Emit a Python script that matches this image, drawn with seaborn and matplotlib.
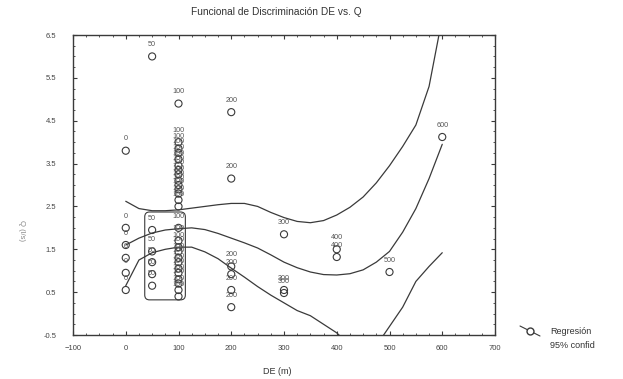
import numpy as np
import pandas as pd
import matplotlib
matplotlib.use("Agg")
import matplotlib.pyplot as plt
from matplotlib.patches import FancyBboxPatch
from matplotlib.lines import Line2D
from matplotlib.ticker import MultipleLocator
import seaborn as sns

# observed points: DE (m) -> Q
q_de0 = [3.8, 2.0, 1.6, 1.3, 0.95, 0.55]
q_de50 = [6.0, 1.95, 1.45, 1.2, 0.92, 0.65]
q_de100 = [4.9, 4.0, 3.85, 3.75, 3.6, 3.45, 3.35, 3.25, 3.1, 3.0, 2.9, 2.8,
           2.65, 2.5, 2.0, 1.7, 1.55, 1.45, 1.3, 1.2, 1.05, 0.95, 0.8, 0.7,
           0.55, 0.4]
q_de200 = [4.7, 3.15, 1.1, 0.92, 0.55, 0.15]
q_de300 = [1.85, 0.55, 0.48]
q_de400 = [1.5, 1.32]
q_de500 = [0.97]
q_de600 = [4.12]

# regression and 95% band
curve_x = [0, 25, 50, 75, 100, 125, 150, 175, 200, 225, 250, 275, 300, 325,
           350, 375, 400, 425, 450, 475, 500, 525, 550, 575, 600]
reg_mid = [1.60, 1.76, 1.88, 1.95, 1.98, 2.00, 1.96, 1.87, 1.76, 1.65, 1.53,
           1.37, 1.20, 1.07, 0.97, 0.91, 0.90, 0.93, 1.02, 1.20, 1.45, 1.90,
           2.45, 3.15, 3.95]
reg_upper = [2.62, 2.45, 2.40, 2.40, 2.42, 2.46, 2.50, 2.54, 2.57, 2.57, 2.50,
             2.36, 2.24, 2.15, 2.12, 2.17, 2.30, 2.48, 2.72, 3.05, 3.45, 3.90,
             4.40, 5.30, 6.90]
reg_lower = [0.65, 1.25, 1.42, 1.50, 1.55, 1.55, 1.44, 1.28, 1.06, 0.85, 0.63,
             0.43, 0.25, 0.07, -0.05, -0.25, -0.45, -0.75, -0.90, -0.75, -0.30,
             0.15, 0.75, 1.10, 1.42]

groups = {0: q_de0, 50: q_de50, 100: q_de100, 200: q_de200,
          300: q_de300, 400: q_de400, 500: q_de500, 600: q_de600}
pts = pd.DataFrame([(de, q) for de, qs in groups.items() for q in qs],
                   columns=["DE", "Q"])
curves = pd.DataFrame({"x": curve_x, "mid": reg_mid,
                       "upper": reg_upper, "lower": reg_lower})

sns.set_style("ticks")
plt.rcParams["font.family"] = ["Liberation Sans", "DejaVu Sans"]
ink = "#3a3a3a"

fig = plt.figure(figsize=(6.23, 3.79), dpi=100)
ax = fig.add_axes([73 / 623, 1 - 335 / 379, 422 / 623, 300 / 379])

for col in ["mid", "upper", "lower"]:
    sns.lineplot(data=curves, x="x", y=col, ax=ax, color=ink, lw=0.9)

sns.scatterplot(data=pts, x="DE", y="Q", ax=ax, marker="o", s=26,
                facecolor="none", edgecolor=ink, linewidth=0.8, zorder=3)
for de, q in zip(pts["DE"], pts["Q"]):
    ax.annotate(str(de), (de, q), xytext=(0, 8.5), textcoords="offset points",
                ha="center", va="center", fontsize=5.2, color="#555555")

# rounded box around the 50-100 cluster
box = FancyBboxPatch((36, 0.32), 77, 2.05,
                     boxstyle="round,pad=0,rounding_size=9",
                     mutation_aspect=0.0125, fill=False, ec=ink, lw=0.8)
ax.add_patch(box)

ax.set_xlim(-100, 700)
ax.set_ylim(-0.5, 6.5)
ax.set_xticks(np.arange(-100, 701, 100))
ax.set_yticks(np.arange(-0.5, 6.6, 1.0))
ax.set_yticklabels([f"{v:.1f}".replace("-", "-") for v in np.arange(-0.5, 6.6, 1.0)])
ax.xaxis.set_minor_locator(MultipleLocator(25))
ax.yaxis.set_minor_locator(MultipleLocator(0.25))
ax.tick_params(which="both", direction="in", top=True, right=True,
               color=ink, labelcolor="#444444", labelsize=5.5)
ax.tick_params(which="major", length=3, width=0.8)
ax.tick_params(which="minor", length=1.5, width=0.6)
ax.tick_params(axis="y", pad=12)
ax.tick_params(axis="x", pad=7)
for sp in ax.spines.values():
    sp.set_color(ink)
    sp.set_linewidth(1.0)
ax.set_xlabel("")
ax.set_ylabel("")

fig.text(276 / 623, 1 - 12 / 379, "Funcional de Discriminación DE vs. Q",
         ha="center", va="center", fontsize=7.3, color="#333333")
fig.text(277 / 623, 1 - 372 / 379, "DE (m)", ha="center", va="center",
         fontsize=6.5, color="#333333")
fig.text(21 / 623, 1 - 230 / 379, "Q (l/s)", ha="center", va="center",
         rotation=-90, fontsize=5.5, color="#888888")

# legend
fig.add_artist(Line2D([520 / 623, 530 / 623, 540 / 623],
                      [1 - 326 / 379, 1 - 331 / 379, 1 - 336 / 379],
                      transform=fig.transFigure, color=ink, lw=0.8,
                      marker="o", markevery=[1], ms=5, mfc="white", mec=ink))
fig.text(550 / 623, 1 - 331 / 379, "Regresión", ha="left", va="center",
         fontsize=6.5, color="#333333")
fig.text(550 / 623, 1 - 345 / 379, "95% confid", ha="left", va="center",
         fontsize=6.5, color="#333333")

fig.savefig("out.png", dpi=100)
